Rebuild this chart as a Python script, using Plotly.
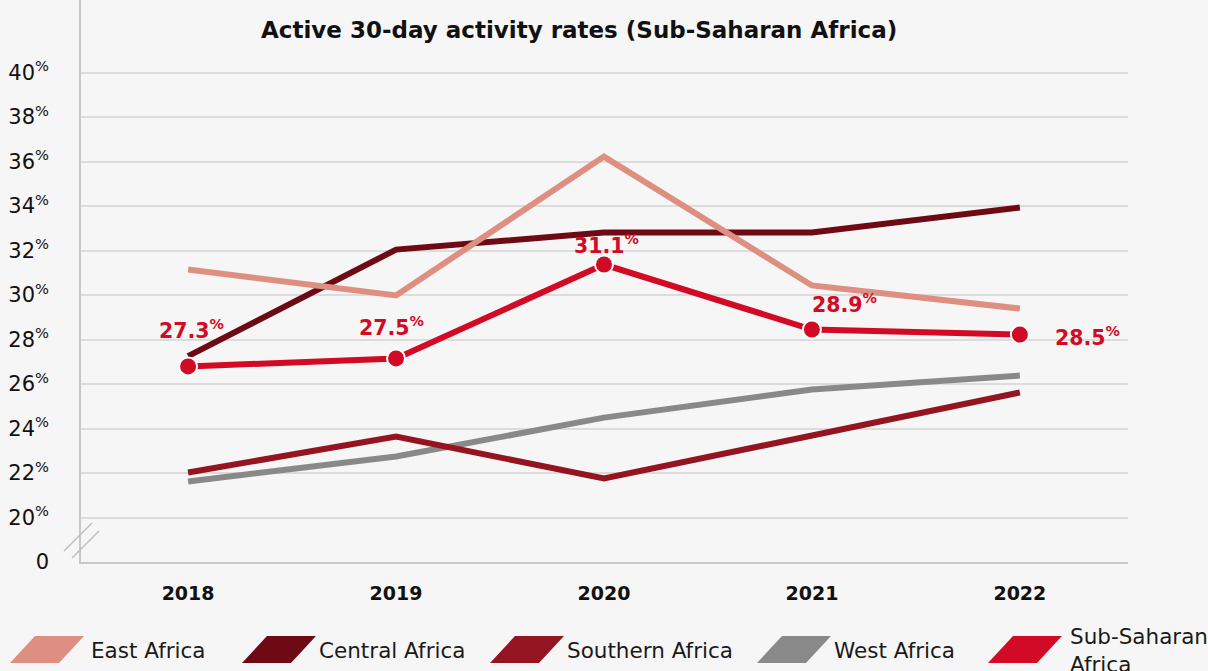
import plotly.graph_objects as go

# dados
anos = ["2018", "2019", "2020", "2021", "2022"]
east_africa = [31.15, 29.98, 36.22, 30.43, 29.39]
central_africa = [27.25, 32.04, 32.81, 32.81, 33.93]
southern_africa = [22.02, 23.64, 21.75, 23.69, 25.62]
west_africa = [21.62, 22.74, 24.49, 25.75, 26.38]
sub_saharan = [26.79, 27.15, 31.37, 28.45, 28.22]
sub_saharan_labels = ["27.3", "27.5", "31.1", "28.9", "28.5"]

tick_vals = [18, 20, 22, 24, 26, 28, 30, 32, 34, 36, 38, 40]
tick_text = ["0"] + [f"{v}<sup>%</sup>" for v in tick_vals[1:]]

CORES = {
    "east": "#de8f81",
    "central": "#6e0a14",
    "southern": "#951421",
    "west": "#898989",
    "ssa": "#d30a25",
}
FONTE = "DejaVu Sans"
BG = "#f6f6f6"

W, H = 1208, 671
L, R, T, B = 81, 80, 0, 109
PW, PH = W - L - R, H - T - B


def px(x):
    return (x - L) / PW


def py(y):
    return (H - B - y) / PH


fig = go.Figure()

series = [
    ("West Africa", west_africa, CORES["west"]),
    ("Southern Africa", southern_africa, CORES["southern"]),
    ("Central Africa", central_africa, CORES["central"]),
    ("East Africa", east_africa, CORES["east"]),
]
for nome, valores, cor in series:
    fig.add_trace(go.Scatter(
        x=anos, y=valores, name=nome, mode="lines",
        line=dict(color=cor, width=6),
        hoverinfo="skip",
    ))

fig.add_trace(go.Scatter(
    x=anos, y=sub_saharan, name="Sub-Saharan Africa", mode="lines+markers",
    line=dict(color=CORES["ssa"], width=6),
    marker=dict(size=18, color=CORES["ssa"], line=dict(color="white", width=2)),
    hoverinfo="skip",
))

# rótulos da série Sub-Saharan (x pelo índice da categoria)
deslocamentos = [(3, 37), (-5, 32), (3, 20), (33, 26), (68, -2)]
for i, (val, lab, (dx, dy)) in enumerate(zip(sub_saharan, sub_saharan_labels, deslocamentos)):
    fig.add_annotation(
        x=i, y=val, text=f"<b>{lab}<sup>%</sup></b>", showarrow=False,
        xshift=dx, yshift=dy, xanchor="center", yanchor="middle",
        font=dict(family=FONTE, size=20.5, color=CORES["ssa"]),
    )

# título
fig.add_annotation(
    x=px(579), y=py(30), xref="paper", yref="paper", showarrow=False,
    xanchor="center", yanchor="middle",
    text="<b>Active 30-day activity rates (Sub-Saharan Africa)</b>",
    font=dict(family=FONTE, size=23, color="#111111"),
)

# marca de quebra do eixo
for (x0, y0, x1, y1) in [(64, 551, 92, 523), (72, 558, 99, 531)]:
    fig.add_shape(type="line", xref="paper", yref="paper",
                  x0=px(x0), y0=py(y0), x1=px(x1), y1=py(y1),
                  line=dict(color="#bdbdbd", width=1.5))

# legenda manual (paralelogramos)
legenda = [
    ("East Africa", CORES["east"], 10, 89),
    ("Central Africa", CORES["central"], 242, 317),
    ("Southern Africa", CORES["southern"], 490, 565),
    ("West Africa", CORES["west"], 757, 832),
    ("Sub-Saharan<br>Africa", CORES["ssa"], 988, 1068),
]
for texto, cor, sx, tx in legenda:
    pts = [(sx, 663), (sx + 49, 663), (sx + 74, 636), (sx + 25, 636)]
    path = "M " + " L ".join(f"{px(a):.5f},{py(b):.5f}" for a, b in pts) + " Z"
    fig.add_shape(type="path", xref="paper", yref="paper", path=path,
                  fillcolor=cor, line=dict(width=0))
    fig.add_annotation(
        x=px(tx), y=py(650), xref="paper", yref="paper", showarrow=False,
        xanchor="left", yanchor="middle", align="left", text=texto,
        font=dict(family=FONTE, size=21.5, color="#1a1a1a"),
    )

fig.update_layout(
    width=W, height=H,
    margin=dict(l=L, r=R, t=T, b=B),
    paper_bgcolor=BG, plot_bgcolor=BG,
    showlegend=False,
    xaxis=dict(
        type="category", range=[-0.515, 4.52],
        showgrid=False, showline=True, linecolor="#c8c8c8", linewidth=1.5,
        ticks="outside", ticklen=13, tickcolor="rgba(0,0,0,0)",
        tickfont=dict(family=FONTE, size=19, color="#111111"),
        tickvals=anos, ticktext=[f"<b>{a}</b>" for a in anos],
        zeroline=False,
    ),
    yaxis=dict(
        range=[18, 18 + PH / 22.25],
        tickvals=tick_vals, ticktext=tick_text,
        showgrid=True, gridcolor="#dcdcdc", gridwidth=1.5,
        showline=True, linecolor="#c8c8c8", linewidth=1.5,
        ticks="outside", ticklen=26, tickcolor="rgba(0,0,0,0)",
        tickfont=dict(family=FONTE, size=21, color="#111111"),
        zeroline=False,
    ),
)

fig.write_html("out.html", config={"displayModeBar": False},
               post_script="document.body.style.margin='0';")
